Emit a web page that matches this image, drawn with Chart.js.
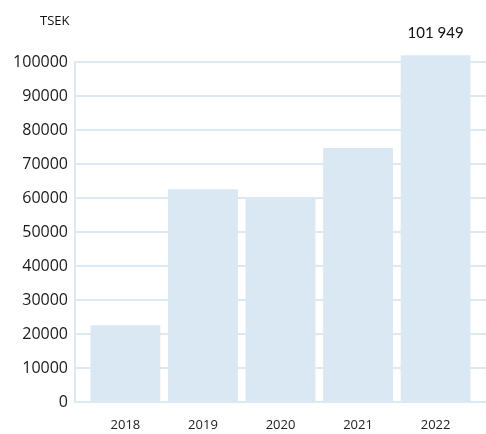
<!DOCTYPE html>
<html>
<head>
<meta charset="utf-8">
<script src="https://cdn.jsdelivr.net/npm/chart.js@4/dist/chart.umd.min.js"></script>
<style>
    html, body { margin: 0; padding: 0; background: #fff; }
    #wrap { position: relative; width: 486px; height: 434px; }
</style>
</head>
<body>
<div id="wrap"><canvas id="revChart" width="486" height="434"></canvas></div>
<script>
// =========================
// DATA
// =========================
const years = ["2018", "2019", "2020", "2021", "2022"];
const revenue = [22600, 62600, 59700, 74700, 101949];
const lastLabel = "101 949";
const unitLabel = "TSEK";

const barColor = "#d9e8f3";
const gridColor = "#dce9f3";
const FONT = "'Open Sans', 'Noto Sans', sans-serif";

// bars on a linear x axis so the grid can run past the outer bars
const points = revenue.map((v, i) => ({ x: i, y: v }));

// =========================
// LABEL PLUGIN
// =========================
const extraText = {
    id: "extraText",
    afterDatasetsDraw(chart) {
        const ctx = chart.ctx;
        const xs = chart.scales.x;
        const ys = chart.scales.y;
        const last = revenue.length - 1;
        ctx.save();
        ctx.fillStyle = "#111";
        ctx.textAlign = "center";
        ctx.textBaseline = "bottom";
        ctx.font = "15px 'Lato', 'Open Sans', sans-serif";
        ctx.fillText(lastLabel, xs.getPixelForValue(last), ys.getPixelForValue(revenue[last]) - 15);

        ctx.font = "13px " + FONT;
        ctx.textAlign = "left";
        ctx.fillText(unitLabel, 40, 28);
        ctx.restore();
    }
};

// =========================
// CHART
// =========================
const ctx = document.getElementById("revChart").getContext("2d");

new Chart(ctx, {
    type: "bar",
    data: {
        datasets: [{
            data: points,
            backgroundColor: barColor,
            borderWidth: 0,
            categoryPercentage: 1,
            barPercentage: 0.9,
            clip: false
        }]
    },
    options: {
        responsive: false,
        animation: false,
        layout: { padding: { top: 62, right: 0, left: 0, bottom: 0 } },
        plugins: {
            legend: { display: false },
            tooltip: { enabled: false }
        },
        scales: {
            x: {
                type: "linear",
                offset: false,
                min: -0.65,
                max: 4.65,
                grid: { display: false, drawTicks: false },
                border: { display: false },
                afterFit(scale) { scale.height = 32; },
                ticks: {
                    stepSize: 1,
                    includeBounds: false,
                    padding: 15,
                    color: "#222",
                    font: { family: FONT, size: 13 },
                    callback: (v) => years[v] !== undefined && Number.isInteger(v) ? years[v] : ""
                }
            },
            y: {
                min: 0,
                max: 100000,
                grid: { color: gridColor, lineWidth: 2, drawTicks: false },
                border: { display: true, color: gridColor, width: 2 },
                afterFit(scale) { scale.width = 75; },
                ticks: {
                    stepSize: 10000,
                    padding: 7,
                    color: "#1a1a1a",
                    font: { family: FONT, size: 16 },
                    callback: (v) => String(v)
                }
            }
        }
    },
    plugins: [extraText]
});
</script>
</body>
</html>
